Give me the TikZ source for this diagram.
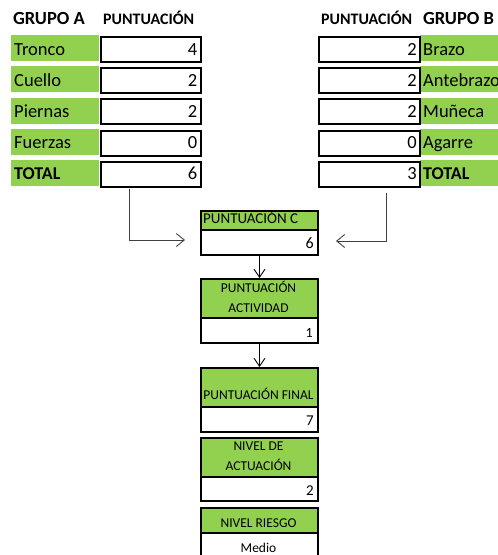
\documentclass[tikz,border=0pt]{standalone}
\usepackage{fontspec}
\setmainfont{Carlito}
\usetikzlibrary{arrows.meta}
\definecolor{cellgreen}{HTML}{92D050}
\definecolor{linkgrey}{HTML}{404040}
\begin{document}
\begin{tikzpicture}[x=1pt,y=-1pt,
  lbl/.style={inner sep=0pt,anchor=base west,font=\fontsize{18.5}{20}\selectfont},
  lblb/.style={lbl,font=\fontsize{18}{20}\selectfont\bfseries},
  num/.style={inner sep=0pt,anchor=base east,font=\fontsize{18.5}{20}\selectfont},
  hdr/.style={inner sep=0pt,anchor=base west,font=\fontsize{16}{18}\selectfont\bfseries},
  hdrbig/.style={inner sep=0pt,anchor=base west,font=\fontsize{18.5}{20}\selectfont\bfseries},
  greencell/.style={fill=cellgreen,inner sep=0pt,anchor=north west,minimum height=26pt},
  valcell/.style={draw=black,line width=2pt,fill=white,inner sep=0pt,anchor=north west,minimum height=25pt},
  head/.style={draw=black,line width=2pt,fill=cellgreen,inner sep=0pt,anchor=north west,minimum width=117pt},
  body/.style={draw=black,line width=2pt,fill=white,inner sep=0pt,anchor=north west,minimum width=117pt},
  small/.style={inner sep=0pt,anchor=base,font=\fontsize{13.5}{16}\selectfont},
  smallnum/.style={inner sep=0pt,anchor=base east,font=\fontsize{15}{18}\selectfont},
  link/.style={draw=linkgrey,line width=0.9pt,-{Straight Barb[length=8pt,width=13pt,line width=0.9pt]}},
  down/.style={draw=black,line width=0.9pt,-{Straight Barb[length=8pt,width=11pt,line width=0.9pt]}}
]
\useasboundingbox (0,0) rectangle (498,555);

% column headers
\node[hdrbig] (hA) at (13,24) {GRUPO A};
\node[hdr] (pA) at (103,24) {PUNTUACIÓN};
\node[hdr] (pB) at (321,24) {PUNTUACIÓN};
\node[hdrbig] (hB) at (423,24) {GRUPO B};

% group A rows
\foreach \i/\name/\val/\st in {0/Tronco/4/lbl,1/Cuello/2/lbl,2/Piernas/2/lbl,3/Fuerzas/0/lbl,4/TOTAL/6/lblb}{
  \pgfmathsetmacro{\top}{35+31.2*\i}
  \node[greencell,minimum width=88pt] (gA\i) at (11,\top) {};
  \node[valcell,minimum width=100pt] (vA\i) at (100,\top+1) {};
  \node[\st] (tA\i) at (14,\top+20) {\name};
  \node[num] (nA\i) at (197.5,\top+20) {\val};
}

% group B rows (the wide label runs off the right edge)
\foreach \i/\name/\val/\st in {0/Brazo/2/lbl,1/Antebrazo/2/lbl,2/Muñeca/2/lbl,3/Agarre/0/lbl,4/TOTAL/3/lblb}{
  \pgfmathsetmacro{\top}{35+31.2*\i}
  \node[greencell,minimum width=90pt] (gB\i) at (420,\top) {};
  \node[valcell,minimum width=101pt] (vB\i) at (318,\top+1) {};
  \node[\st] (tB\i) at (423,\top+20) {\name};
  \node[num] (nB\i) at (417,\top+20) {\val};
}

% score C
\node[head,minimum height=19pt] (hC) at (200,210) {};
\node[body,minimum height=25pt] (bC) at (200,229) {};
\node[inner sep=0pt,anchor=base west,font=\fontsize{15}{18}\selectfont] (tC) at (203,223) {PUNTUACIÓN C};
\node[smallnum,font=\fontsize{16}{18}\selectfont] (vC) at (314,248) {6};

% activity score
\node[head,minimum height=39pt] (hAct) at (200,278) {};
\node[body,minimum height=25pt] (bAct) at (200,317) {};
\node[small] (tAct1) at (258.5,292) {PUNTUACIÓN};
\node[small] (tAct2) at (258.5,312) {ACTIVIDAD};
\node[smallnum,font=\fontsize{14}{16}\selectfont] (vAct) at (313,337) {1};

% final score
\node[head,minimum height=39pt] (hFin) at (200,367) {};
\node[body,minimum height=25pt] (bFin) at (200,406) {};
\node[small] (tFin) at (258.5,399) {PUNTUACIÓN FINAL};
\node[smallnum] (vFin) at (314,425) {7};

% action level
\node[head,minimum height=39pt] (hNiv) at (200,437) {};
\node[body,minimum height=24pt] (bNiv) at (200,476) {};
\node[small] (tNiv1) at (258.5,450) {NIVEL DE};
\node[small] (tNiv2) at (258.5,470) {ACTUACIÓN};
\node[smallnum] (vNiv) at (314,495) {2};

% risk level
\node[head,minimum height=25pt] (hRie) at (200,507) {};
\node[body,minimum height=30pt] (bRie) at (200,532) {};
\node[small] (tRie) at (258.5,527) {NIVEL RIESGO};
\node[small] (vRie) at (258.5,552) {Medio};

% links from the group totals into score C
\coordinate (aStart) at (129,189);
\coordinate (aEnd) at (185,240);
\coordinate (bStart) at (386,193);
\coordinate (bEnd) at (336,241);
\draw[link] (aStart) |- (aEnd);
\draw[link] (bStart) |- (bEnd);

% chain of scores
\draw[down] (bC.south) -- (hAct.north);
\draw[down] (bAct.south) -- (hFin.north);
\end{tikzpicture}
\end{document}
